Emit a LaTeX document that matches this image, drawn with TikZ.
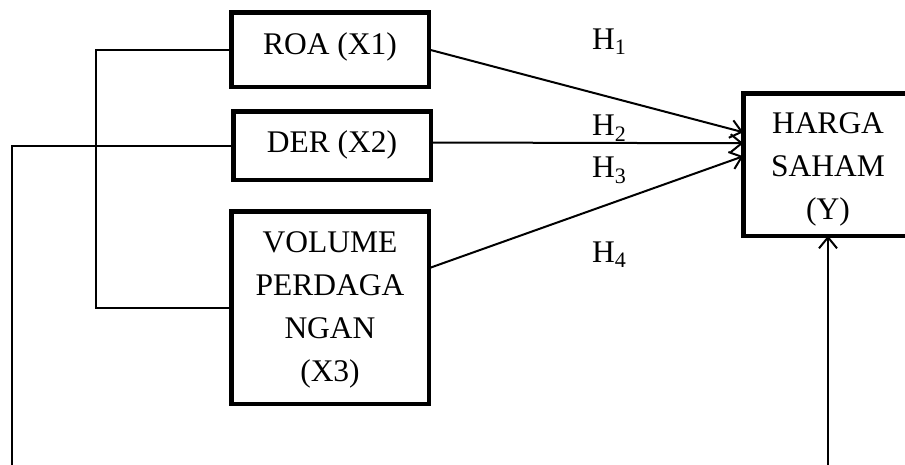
\documentclass[tikz,border=0pt]{standalone}
\usepackage{fontspec}
\setmainfont{Liberation Serif}
\usetikzlibrary{arrows.meta}
\tikzset{
  varbox/.style={draw, line width=4.5pt, inner sep=0pt, outer sep=0pt,
    font=\fontsize{31.5}{43}\selectfont},
  boxtext/.style={anchor=base, inner sep=0pt, font=\fontsize{31.5}{43}\selectfont},
  hlabel/.style={anchor=base west, inner sep=0pt, font=\fontsize{31.5}{43}\selectfont},
  link/.style={line width=2pt},
  arr/.style={line width=2pt, -{Straight Barb[length=11pt,width=18pt,line width=2pt]}}
}
\begin{document}
\begin{tikzpicture}[x=1pt,y=-1pt]
\useasboundingbox (0,0) rectangle (905,464);
\node[varbox, minimum width=197.5pt, minimum height=74.5pt, text height=41.75pt, text depth=32.75pt] (roa) at (330,49.5) {ROA (X1)};
\node[varbox, minimum width=197.5pt, minimum height=68.5pt, text height=40.75pt, text depth=27.75pt] (der) at (332,145.5) {DER (X2)};
\node[varbox, minimum width=197.5pt, minimum height=192.5pt] (vol) at (330,307.5) {};
\node[boxtext] (vol1) at (330,252) {VOLUME};
\node[boxtext] (vol2) at (330,295) {PERDAGA};
\node[boxtext] (vol3) at (330,338) {NGAN};
\node[boxtext] (vol4) at (330,381) {(X3)};
\node[varbox, minimum width=169.5pt, minimum height=142.5pt] (harga) at (828,164.5) {};
\node[boxtext] (hg1) at (828,133) {HARGA};
\node[boxtext] (hg2) at (828,176) {SAHAM};
\node[boxtext] (hg3) at (828,219) {(Y)};
\node[hlabel] (h1) at (592,49) {H\textsubscript{1}};
\node[hlabel] (h2) at (592,135) {H\textsubscript{2}};
\node[hlabel] (h3) at (592,177) {H\textsubscript{3}};
\node[hlabel] (h4) at (592,262) {H\textsubscript{4}};
\coordinate (bl) at (12,480);
\draw[link] (roa.west) -- ++(-135,0) |- (vol.west);
\draw[arr] (roa.east) -- ([yshift=-39pt]harga.north west);
\draw[arr] ([yshift=3pt]der.east) -- ([yshift=-50pt]harga.north west);
\draw[arr] ([yshift=-57pt]vol.north east) -- ([yshift=-63pt]harga.north west);
\draw[arr] (der.west) -| (bl) -| (harga.south);
\end{tikzpicture}
\end{document}
